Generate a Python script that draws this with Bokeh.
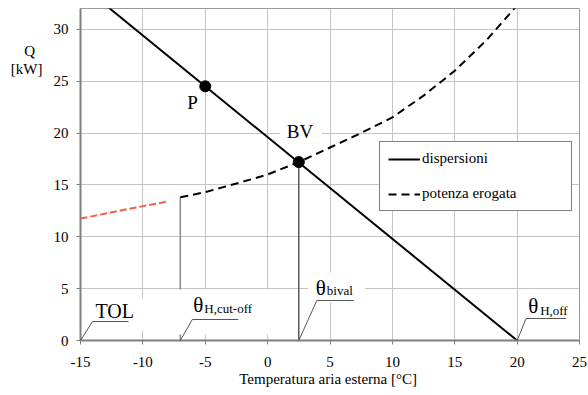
from bokeh.plotting import figure
from bokeh.models import (Label, Legend, LegendItem, FixedTicker, BoxAnnotation, Range1d, LinearAxis)
from bokeh.embed import file_html
from bokeh.resources import INLINE

# ---- data ----
disp_T = [-15, 20]
disp_Q = [34.3, 0.0]

pot_T = [-7, -5, -2, 0, 2.5, 5, 7.5, 10, 12.5, 15, 17.5, 20]
pot_Q = [13.8, 14.3, 15.3, 16.0, 17.2, 18.6, 20.0, 21.5, 23.6, 26.0, 28.9, 32.3]

red_T = [-15, -11.5, -8]
red_Q = [11.75, 12.6, 13.4]

P_pt = (-5.0, 24.5)
BV_pt = (2.5, 17.2)

T_TOL = -15.0
T_cut = -7.0
Q_cut = 13.8
T_bival = 2.5
Q_bival = 17.2
T_off = 20.0

x_ticks = [-15, -10, -5, 0, 5, 10, 15, 20, 25]
y_ticks = [0, 5, 10, 15, 20, 25, 30]
X_MIN, X_MAX = -15, 25
Y_MIN, Y_MAX = 0, 32
y_title_lines = ["Q\u00a0\u00a0", "[kW]"]

# ---- layout ----
W, H = 588, 395
BL, BR, BT, BB = 80, 9, 8, 55
FW = W - BL - BR
FH = H - BT - BB
SX = FW / (X_MAX - X_MIN)
SY = FH / (Y_MAX - Y_MIN)
BASE_FIX = 8  # vertical correction for alphabetic baseline

def dx(px):
    return px / SX

def dy(px):
    return px / SY

SERIF = "Liberation Serif"

p = figure(width=W, height=H, output_backend="svg", toolbar_location=None,
           x_range=Range1d(X_MIN, X_MAX), y_range=Range1d(Y_MIN, Y_MAX),
           min_border_left=BL, min_border_right=BR, min_border_top=BT, min_border_bottom=BB)
p.background_fill_color = "white"
p.border_fill_color = "white"
p.outline_line_color = "#9a9a9a"
p.outline_line_width = 1

p.xaxis.ticker = FixedTicker(ticks=x_ticks)
p.yaxis.ticker = FixedTicker(ticks=y_ticks)
p.xaxis.major_label_overrides = {t: str(t) for t in x_ticks}
p.yaxis.major_label_overrides = {t: str(t) for t in y_ticks}
p.axis.axis_line_color = "#7f7f7f"
p.axis.axis_line_width = 2
p.axis.major_tick_line_color = "#7f7f7f"
p.axis.major_tick_out = 4
p.axis.major_tick_in = 0
p.axis.minor_tick_line_color = None
p.axis.major_label_text_font_size = "15px"
p.axis.major_label_text_color = "black"
p.axis.major_label_text_font = SERIF
p.xaxis.major_label_standoff = 12
p.yaxis.major_label_standoff = 8
p.xaxis.axis_label = "Temperatura  aria esterna [°C]"
p.xaxis.axis_label_text_font = SERIF
p.xaxis.axis_label_text_font_style = "normal"
p.xaxis.axis_label_text_font_size = "15px"
p.xaxis.axis_label_text_color = "black"
p.xaxis.axis_label_standoff = 1

# y title "Q [kW]" as a label-only outer axis near the top
title_pos = [(FH + BT - 50) / SY, (FH + BT - 68) / SY]
t_axis = LinearAxis(ticker=FixedTicker(ticks=title_pos),
                    major_label_overrides={v: s for v, s in zip(title_pos, y_title_lines)},
                    axis_line_color=None, major_tick_line_color=None, minor_tick_line_color=None,
                    major_label_standoff=2, major_label_text_font=SERIF,
                    major_label_text_font_size="15px", major_label_text_color="black")
p.add_layout(t_axis, "left")

p.grid.grid_line_color = "#c4c4c4"
p.grid.grid_line_width = 1
p.ygrid[0].ticker = FixedTicker(ticks=y_ticks)

# vertical reference lines
p.segment(x0=[T_cut], y0=[0], x1=[T_cut], y1=[Q_cut], line_color="#8a8a8a", line_width=1.5)
p.segment(x0=[T_bival], y0=[0], x1=[T_bival], y1=[Q_bival], line_color="#333333", line_width=1.2)

# curves
r_disp = p.line(disp_T, disp_Q, line_color="black", line_width=2)
r_pot = p.line(pot_T, pot_Q, line_color="black", line_width=2, line_dash="8 5")
p.line(red_T, red_Q, line_color="#f0604a", line_width=2, line_dash="7 3")

p.scatter([P_pt[0], BV_pt[0]], [P_pt[1], BV_pt[1]], size=11, color="black")

# white boxes behind labels
def wbox(ax, ay, l, r, b, t):
    p.add_layout(BoxAnnotation(left=ax + dx(l), right=ax + dx(r), bottom=ay + dy(b), top=ay + dy(t),
                               fill_color="white", fill_alpha=1, line_color=None))

wbox(T_TOL, 0, 9, 66, 10, 42)
wbox(T_cut, 0, -2, 88, 6, 51)
wbox(T_bival, 0, 9, 66, 38, 68)
wbox(T_off, 0, 8, 57, 18, 44)
wbox(BV_pt[0], BV_pt[1], -19, 23, 18, 39)

def lab(x, y, text, size, xo=0, yo=0):
    p.add_layout(Label(x=x, y=y, x_offset=xo, y_offset=yo + BASE_FIX, text=text,
                       text_font=SERIF, text_font_size=size, text_color="black",
                       text_baseline="alphabetic", text_align="left"))

# point labels
lab(P_pt[0], P_pt[1], "P", "19px", -18, -24)
lab(BV_pt[0], BV_pt[1], "BV", "19px", -12, 23)

# temperature labels
lab(T_TOL, 0, "TOL", "20px", 15, 22)
lab(T_cut, 0, "θ", "21px", 13, 28)
lab(T_cut, 0, "H,cut-off", "13px", 24, 24)
lab(T_bival, 0, "θ", "21px", 17, 45)
lab(T_bival, 0, "bival", "13px", 28, 42)
lab(T_off, 0, "θ", "21px", 11, 27)
lab(T_off, 0, "H,off", "13px", 23, 22)

# leader lines
def leader(ax, rise, run, ul):
    xs = [ax, ax + dx(run), ax + dx(run + ul)]
    ys = [0, dy(rise), dy(rise)]
    r = p.line(xs, ys, line_color="#555555", line_width=1)
    r.level = "overlay"

leader(T_TOL, 19, 12, 36)
leader(T_cut, 21, 12, 46)
leader(T_bival, 40, 18, 37)
leader(T_off, 22, 9, 40)

legend = Legend(items=[LegendItem(label="dispersioni", renderers=[r_disp]),
                       LegendItem(label="potenza erogata", renderers=[r_pot])],
                location=(299, 129))
legend.border_line_color = "black"
legend.border_line_width = 1
legend.background_fill_color = "white"
legend.background_fill_alpha = 1
legend.padding = 8
legend.spacing = 18
legend.glyph_width = 32
legend.glyph_height = 14
legend.label_height = 14
legend.label_width = 141
legend.label_standoff = 2
legend.label_text_font = SERIF
legend.label_text_font_size = "15px"
legend.label_text_color = "black"
legend.margin = 0
p.add_layout(legend)

open("out.html", "w").write(file_html(p, INLINE))
